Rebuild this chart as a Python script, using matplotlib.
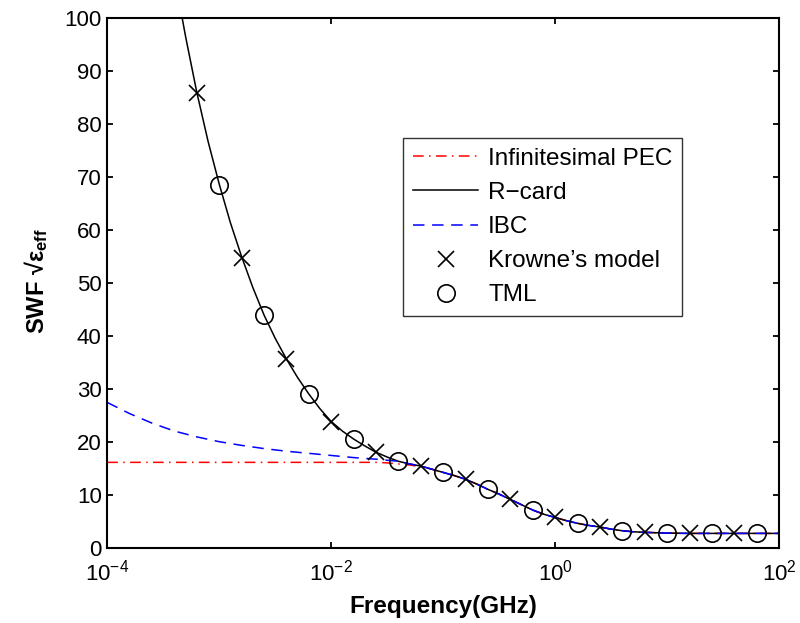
import numpy as np
import matplotlib
matplotlib.use("Agg")
import matplotlib.pyplot as plt

plt.rcParams['font.family'] = ['Liberation Sans', 'DejaVu Sans']
plt.rcParams['mathtext.fontset'] = 'custom'
plt.rcParams['mathtext.rm'] = 'Liberation Sans'
plt.rcParams['mathtext.it'] = 'Liberation Sans:italic'
plt.rcParams['mathtext.bf'] = 'Liberation Sans:bold'

# log10(frequency in GHz) and values
rcard_logf = [-3.4, -3.3, -3.2, -3.1, -3.0, -2.9, -2.8, -2.7, -2.6, -2.5, -2.4, -2.3,
              -2.2, -2.1, -2.0, -1.9, -1.8, -1.7, -1.6, -1.5, -1.4, -1.3, -1.2, -1.1,
              -1.0, -0.9, -0.8, -0.7, -0.6, -0.5, -0.4, -0.3, -0.2, -0.1, 0.0, 0.1,
              0.2, 0.3, 0.4, 0.5, 0.6, 0.7, 0.8, 1.0, 1.2, 1.5, 2.0]
rcard_val = [108, 96.5, 86, 76.8, 68.7, 61.4, 55, 49.2, 44, 39.6, 35.7, 32.2,
             29.1, 26.3, 23.9, 22.1, 20.6, 19.3, 18.1, 17.2, 16.4, 15.9, 15.5, 14.9,
             14.3, 13.7, 13.0, 12.1, 11.1, 10.2, 9.2, 8.2, 7.2, 6.4, 5.8, 5.2,
             4.7, 4.3, 4.0, 3.6, 3.3, 3.1, 3.0, 2.85, 2.8, 2.8, 2.8]

pec_logf = [-4.0, -3.0, -2.0, -1.6, -1.5, -1.4, -1.3, -1.2, -1.1, -1.0, -0.9, -0.8,
            -0.7, -0.6, -0.5, -0.4, -0.3, -0.2, -0.1, 0.0, 0.1, 0.2, 0.3, 0.4, 0.5,
            0.6, 0.7, 0.8, 1.0, 1.2, 1.5, 2.0]
pec_val = [16.2, 16.2, 16.2, 16.2, 16.1, 15.9, 15.7, 15.4, 14.9, 14.3, 13.7, 13.0,
           12.1, 11.1, 10.2, 9.2, 8.2, 7.2, 6.4, 5.8, 5.2, 4.7, 4.3, 4.0, 3.6,
           3.3, 3.1, 3.0, 2.85, 2.8, 2.8, 2.8]

ibc_logf = [-4.0, -3.8, -3.6, -3.4, -3.2, -3.0, -2.8, -2.6, -2.4, -2.2, -2.0, -1.8,
            -1.6, -1.5, -1.4, -1.3, -1.2, -1.1, -1.0, -0.9, -0.8, -0.7, -0.6, -0.5,
            -0.4, -0.3, -0.2, -0.1, 0.0, 0.1, 0.2, 0.3, 0.4, 0.5, 0.6, 0.7, 0.8,
            1.0, 1.2, 1.5, 2.0]
ibc_val = [27.5, 25.4, 23.6, 22.1, 21.0, 20.1, 19.4, 18.8, 18.3, 17.9, 17.5, 17.1,
           16.8, 16.6, 16.4, 15.9, 15.5, 14.9, 14.3, 13.7, 13.0, 12.1, 11.1, 10.2,
           9.2, 8.2, 7.2, 6.4, 5.8, 5.2, 4.7, 4.3, 4.0, 3.6, 3.3, 3.1, 3.0,
           2.85, 2.8, 2.8, 2.8]

krowne_logf = [-3.2, -2.8, -2.4, -2.0, -1.6, -1.2, -0.8, -0.4, 0.0, 0.4, 0.8, 1.2, 1.6]
krowne_val = [85.8, 54.8, 35.7, 23.9, 18.1, 15.5, 13.0, 9.2, 5.8, 4.0, 3.0, 2.8, 2.8]

tml_logf = [-3.0, -2.6, -2.2, -1.8, -1.4, -1.0, -0.6, -0.2, 0.2, 0.6, 1.0, 1.4, 1.8]
tml_val = [68.6, 44.0, 29.0, 20.6, 16.4, 14.3, 11.1, 7.2, 4.7, 3.3, 2.85, 2.8, 2.8]

fig = plt.figure(figsize=(8, 6.23), dpi=100)
ax = fig.add_axes([0.134, 0.12, 0.84, 0.851])

lw = 1.1
ax.plot(10.0 ** np.array(pec_logf), pec_val, color='red', lw=lw,
        dashes=(7, 3.5, 1, 3.5), label='Infinitesimal PEC')
ax.plot(10.0 ** np.array(rcard_logf), rcard_val, color='black', lw=lw, label='R\u2212card')
ax.plot(10.0 ** np.array(ibc_logf), ibc_val, color='blue', lw=lw,
        dashes=(7.5, 5), label='IBC')
ax.plot(10.0 ** np.array(krowne_logf), krowne_val, 'x', color='black', ms=11,
        mew=1.2, label='Krowne\u2019s model')
ax.plot(10.0 ** np.array(tml_logf), tml_val, 'o', mfc='none', mec='black', ms=12.5,
        mew=1.2, label='TML')

ax.set_xscale('log')
ax.set_xlim(1e-4, 1e2)
ax.set_ylim(0, 100)
ax.set_xticks([1e-4, 1e-2, 1e0, 1e2])
ax.xaxis.set_minor_locator(matplotlib.ticker.NullLocator())
ax.set_yticks(np.arange(0, 101, 10))
ax.tick_params(direction='in', length=4.5, width=1.3, top=True, right=True,
               labelsize=16, pad=4)
ax.tick_params(axis='x', pad=8)
for s in ax.spines.values():
    s.set_linewidth(1.5)

ax.set_xlabel('Frequency(GHz)', fontsize=17.5, fontweight='bold', labelpad=7)
ax.set_ylabel('SWF \u221a\u03b5$_{\\mathbf{eff}}$', fontsize=17, fontweight='bold')
ax.yaxis.set_label_coords(-0.085, 0.503)

leg = ax.legend(loc='upper left', bbox_to_anchor=(403 / 800, 1 - 138 / 623),
                bbox_transform=fig.transFigure, borderaxespad=0, fontsize=17.5,
                frameon=True, fancybox=False, edgecolor='black', handlelength=2.7,
                labelspacing=0.5, borderpad=0.4, handletextpad=0.4)
leg.get_frame().set_linewidth(1.0)

fig.savefig('out.png', dpi=100)
